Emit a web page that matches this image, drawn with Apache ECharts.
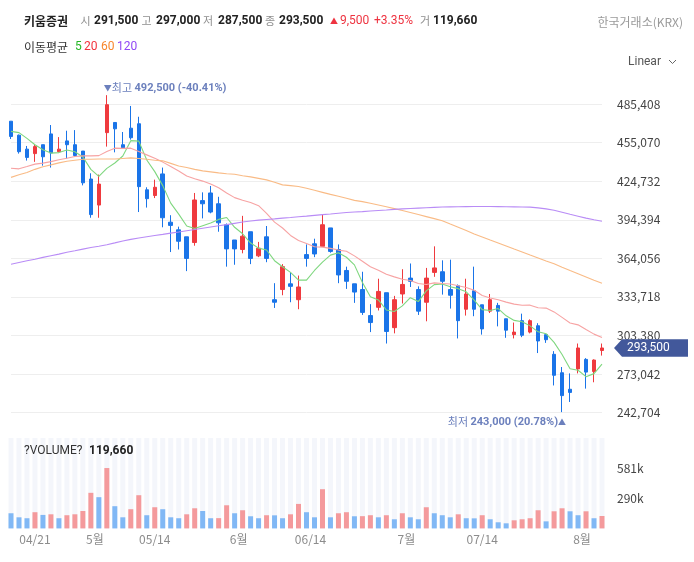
<!DOCTYPE html>
<html><head><meta charset="utf-8">
<script src="https://cdn.jsdelivr.net/npm/echarts@6/dist/echarts.min.js"></script>
<style>html,body{margin:0;padding:0;background:#fff}#c{width:694px;height:562px}</style>
</head><body><div id="c"></div>
<script>
// ---- data ----
const opens = [472000,461000,450000,446500,453500,462000,448000,456500,453500,448500,
426500,406000,463000,471000,453500,466500,470000,418000,413500,430500,
392500,386500,381000,376500,409500,415500,407000,390500,378500,371000,
385000,366000,381000,331500,339500,344000,331500,367000,375500,373500,
388000,371000,354500,344000,339500,319000,325500,337000,309500,336000,
348500,339500,329500,353000,353500,339500,342500,324000,338500,327500,
322500,327000,316500,304000,315000,306000,311000,304000,288500,274000,
261000,277000,284500,275000,291500];
const closes = [460000,448000,443500,452000,444000,447000,450000,453500,445000,423500,
398500,422500,485000,466000,451000,459000,420500,411000,420000,396000,
390000,377500,364000,410000,407000,400500,392000,371500,371500,381500,
364000,372000,364000,329500,357500,342000,341500,364000,367500,390500,
369500,351000,346000,337500,321500,313500,338000,306500,331500,343500,
346000,322500,348500,356500,346000,335000,315000,336000,324000,308500,
331500,322500,307500,306000,303500,315000,299000,300000,272000,256000,
258500,293500,274500,284000,293500];
const lows = [458000,446500,441000,440000,437000,435500,447500,442500,444000,421500,
396000,396000,452000,447500,450500,457500,400500,404000,411500,388500,
369000,371000,354000,374000,395500,399500,385000,357500,359000,368000,
359500,365000,361000,325000,335000,329500,324000,357500,365000,373000,
368500,344500,340000,329000,319500,306000,323000,297000,305000,328500,
341500,319500,314500,349500,335500,324500,301000,319000,318500,304000,
321000,310500,301500,301000,302000,305000,289500,297500,264000,243000,
251000,273500,261500,266500,287500];
const highs = [472000,461500,452500,454000,453500,469000,459500,464500,465000,448500,
431000,430000,492500,471000,463500,484000,475500,420000,426000,435500,
398000,389000,381000,415500,416000,421000,412500,391500,378500,397500,
385000,377000,389500,344500,359500,353000,350500,375000,379500,398500,
388000,375000,357500,344000,353500,328000,348000,337000,334500,355500,
360000,342000,356500,373500,362500,363000,343500,348000,357500,327500,
336000,329000,316500,313500,320500,316000,313000,304000,291000,278500,
273500,297000,285500,284500,297000];
const volumes = [146000,107000,98000,156000,130000,136000,98000,127000,136000,168000,
343000,301000,582000,214000,107000,185000,320000,127000,204000,185000,
107000,98000,136000,194000,168000,98000,99000,223000,146000,175000,
117000,98000,127000,126000,98000,136000,236000,156000,107000,378000,
107000,146000,156000,117000,118000,127000,107000,127000,88000,146000,
107000,88000,204000,146000,127000,107000,136000,98000,97000,127000,
88000,59000,49000,78000,88000,98000,175000,68000,165000,194000,
165000,127000,165000,98000,119660];
const ma5 = [464000,463000,458500,453500,449500,446900,447300,449300,447900,443800,
434100,428600,434900,439100,444600,456700,456300,441500,432300,421300,
407500,398900,389500,387500,389700,391800,394700,396200,388500,383400,
376100,372100,370600,362200,357400,353000,346900,346900,354500,361100,
366600,368500,364900,358900,345100,333900,331300,323400,322200,326600,
333100,330000,338400,343400,343900,341700,340200,337700,331200,323700,
323000,324500,318800,315200,314200,310900,306200,304700,297900,288400,
277100,276000,270900,273300,280800];
const ma20 = [435000,434500,436300,438200,439000,440200,441600,442900,444200,444700,
444700,444900,448100,450800,450600,450800,448100,445500,442900,439800,
436300,432800,428800,426700,424850,422500,419600,415500,411850,409750,
408000,405500,399450,392600,387950,382100,378150,375800,373200,372900,
371900,370550,369650,366000,361750,357400,354700,351450,349450,347550,
346650,344200,343400,344750,344200,343800,342500,341100,338900,334800,
332900,331500,329600,328000,327100,327200,325200,324900,321900,317550,
313200,311700,308000,304400,301800];
const ma60 = [427800,429800,431700,434100,436100,437600,439200,440500,441300,442000,
442100,442300,442300,442300,442700,443100,442700,442000,441300,440800,
438800,436800,435500,434100,432900,432100,431300,430600,430200,429100,
428200,427000,425800,423900,421900,421300,420600,419200,417600,416000,
414400,412900,411300,409700,408700,407400,406000,404600,403200,401700,
400100,398500,396900,395300,393600,391000,388500,385900,383200,380900,
378500,376200,373800,371400,369100,366700,364400,362000,359800,357100,
354500,352000,349400,346800,344500];
const ma120 = [359400,360800,362100,363400,364800,366100,367400,368800,370000,371300,
372600,373600,374800,376200,377700,379000,380000,381000,382000,382900,
383900,384800,385800,386700,387700,388700,389700,390600,391600,392600,
393500,394100,394600,395100,395700,396200,396800,397300,397900,398500,
399000,399600,400100,400500,400800,401300,401700,402100,402600,403000,
403300,403600,403900,404200,404500,404600,404700,404800,404900,404900,
404900,404800,404700,404600,404500,404400,403800,403000,401900,400300,
398700,397200,395700,394400,393200];
const tickLabels = ['04/21','5월','05/14','6월','06/14','7월','07/14','8월'];
const tickAt = [3,10.5,18,28.5,37.5,49.5,59,71.5];
const priceMin = 242704, priceStep = 30338, priceTop = 500500;
const volStep = 290500, volTop = 871500;
const stockName = '키움증권';
const quote = {open:291500, high:297000, low:287500, close:293500, change:9500, pct:'+3.35%', volume:119660};
const maPeriods = ['5','20','60','120'];

// ---- chart ----
const FONT = "'Noto Sans CJK KR','Noto Sans',sans-serif";
const NFONT = "Roboto,'Noto Sans CJK KR',sans-serif";
const RED = '#ef3a3e', BLUE = '#1a74e8';
const VRED = '#f49a9c', VBLUE = '#81b8f5';
const MA_LINE = ['#7fd77f','#f7a3a3','#f9bb86','#b98cf6'];
const MA_TEXT = ['#25b825','#f2323c','#f7862c','#9147f5'];
const ANN = '#6c80bd';
const N = closes.length;
const cats = closes.map((_, i) => i);
const fmt = v => v.toLocaleString('en-US');

const candle = closes.map((c, i) => [opens[i], c, lows[i], highs[i]]);
const volData = volumes.map((v, i) => ({value: v, itemStyle: {color: (i === 0 || v < volumes[i - 1]) ? VBLUE : VRED}}));

let hiIdx = 0, loIdx = 0;
highs.forEach((h, i) => { if (h > highs[hiIdx]) hiIdx = i; });
lows.forEach((l, i) => { if (l < lows[loIdx]) loIdx = i; });
const hiVal = highs[hiIdx], loVal = lows[loIdx];
const hiPct = ((quote.close - hiVal) / hiVal * 100).toFixed(2);
const loPct = ((quote.close - loVal) / loVal * 100).toFixed(2);

const annRich = {
  a: {fontSize: 8, color: ANN, fontFamily: FONT},
  t: {fontSize: 11, color: ANN, fontFamily: FONT},
  b: {fontSize: 11, color: ANN, fontWeight: 'bold', fontFamily: NFONT}
};

const maSeries = [ma5, ma20, ma60, ma120].map((d, k) => ({
  type: 'line', name: 'MA' + maPeriods[k], xAxisIndex: 0, yAxisIndex: 0, data: d,
  showSymbol: false, symbol: 'none', silent: true, z: 5,
  lineStyle: {width: 1.1, color: MA_LINE[k]}
}));

const chart = echarts.init(document.getElementById('c'));
const option = {
  animation: false,
  backgroundColor: '#fff',
  grid: [
    {left: 11, right: 92, top: 85, height: 327.5},
    {left: 11, right: 92, top: 438, height: 90.4}
  ],
  xAxis: [
    {type: 'category', gridIndex: 0, data: cats, boundaryGap: false, show: false},
    {type: 'category', gridIndex: 1, data: cats, boundaryGap: false, show: false},
    {type: 'value', gridIndex: 1, position: 'bottom', min: 0, max: N - 1,
      axisLine: {show: false}, axisTick: {show: false}, splitLine: {show: false},
      axisLabel: {customValues: tickAt, formatter: v => tickLabels[tickAt.indexOf(v)],
        color: '#8c8c8c', fontSize: 12, margin: 5, fontFamily: FONT}}
  ],
  yAxis: [
    {type: 'value', gridIndex: 0, position: 'right', min: priceMin, max: priceTop, interval: priceStep,
      axisLine: {show: false}, axisTick: {show: false},
      splitLine: {show: true, showMaxLine: false, lineStyle: {color: '#eeeeee', width: 1}},
      axisLabel: {showMaxLabel: false, color: '#444', fontSize: 12, margin: 15, fontFamily: FONT, formatter: v => fmt(v)}},
    {type: 'value', gridIndex: 1, position: 'right', min: 0, max: volTop, interval: volStep,
      axisLine: {show: false}, axisTick: {show: false}, splitLine: {show: false},
      axisLabel: {showMinLabel: false, showMaxLabel: false, color: '#444', fontSize: 12, margin: 15, fontFamily: FONT,
        formatter: v => Math.floor(v / 1000) + 'k'}}
  ],
  series: [
    {type: 'candlestick', xAxisIndex: 0, yAxisIndex: 0, data: candle, barWidth: 4, clip: false, z: 3,
      itemStyle: {color: RED, color0: BLUE, borderColor: RED, borderColor0: BLUE, borderWidth: 1},
      markPoint: {
        symbol: 'circle', symbolSize: 0, silent: true,
        data: [
          {coord: [hiIdx, hiVal], label: {show: true, position: [-3, -7], align: 'left', verticalAlign: 'middle',
            formatter: '{a|▼}{t|최고 }{b|' + fmt(hiVal) + ' (' + hiPct + '%)}', rich: annRich}},
          {coord: [loIdx, loVal], label: {show: true, position: [4, 10], align: 'right', verticalAlign: 'middle',
            formatter: '{t|최저 }{b|' + fmt(loVal) + ' (' + loPct + '%)}{a|▲}', rich: annRich}}
        ]
      }},
    ...maSeries,
    {type: 'bar', xAxisIndex: 1, yAxisIndex: 1, data: volData, barWidth: 5, clip: false,
      showBackground: true, backgroundStyle: {color: '#f4f6fb'}}
  ]
};
chart.setOption(option);

// ---- text / overlay graphics ----
const T = (x, y, text, o) => ({type: 'text', x: x, y: y, silent: true, z: 100,
  style: Object.assign({text: text, fontSize: 12, fontFamily: FONT, fill: '#333', verticalAlign: 'middle', align: 'left'}, o || {})});
const G = '#8f8f8f', D = '#222', HR = '#ee3340';
const B = {fontWeight: 'bold', fill: D, fontFamily: NFONT};
const L = {fill: G, fontSize: 11};
const g = [
  T(24, 21, stockName, {fontWeight: 'bold', fill: D}),
  T(80.5, 21, '시', L), T(94, 21, fmt(quote.open), B),
  T(141.5, 21, '고', L), T(156, 21, fmt(quote.high), B),
  T(203, 21, '저', L), T(218, 21, fmt(quote.low), B),
  T(265, 21, '종', L), T(279, 21, fmt(quote.close), B),
  T(330, 21, '▲', {fill: HR, fontSize: 8}),
  T(340, 21, fmt(quote.change), {fill: HR, fontFamily: NFONT}),
  T(374, 21, quote.pct, {fill: HR, fontFamily: NFONT}),
  T(420, 21, '거', L), T(433, 21, fmt(quote.volume), B),
  T(683, 22, '한국거래소(KRX)', {fill: '#9a9a9a', align: 'right'}),
  T(24, 47, '이동평균', {fill: '#333'}),
  T(75, 47, maPeriods[0], {fill: MA_TEXT[0], fontFamily: NFONT}),
  T(84, 47, maPeriods[1], {fill: MA_TEXT[1], fontFamily: NFONT}),
  T(101, 47, maPeriods[2], {fill: MA_TEXT[2], fontFamily: NFONT}),
  T(117, 47, maPeriods[3], {fill: MA_TEXT[3], fontFamily: NFONT}),
  T(628, 62, 'Linear', {fill: '#555', fontFamily: NFONT}),
  {type: 'polyline', silent: true, z: 100, shape: {points: [[669, 60], [672.5, 63.5], [676, 60]]}, style: {stroke: '#666', lineWidth: 1, fill: null}},
  T(24, 451, '?VOLUME?', {fill: '#333', fontFamily: NFONT}),
  T(89, 451, fmt(quote.volume), B)
];
const py = chart.convertToPixel({gridIndex: 0}, [N - 1, quote.close])[1];
g.push({type: 'polygon', silent: true, z: 100,
  shape: {points: [[614, py], [622, py - 8.7], [688, py - 8.7], [688, py + 8.7], [622, py + 8.7]]},
  style: {fill: '#42589b'}});
g.push(T(627, py, fmt(quote.close), {fill: '#fff', fontFamily: NFONT}));
chart.setOption({graphic: g});
</script></body></html>
